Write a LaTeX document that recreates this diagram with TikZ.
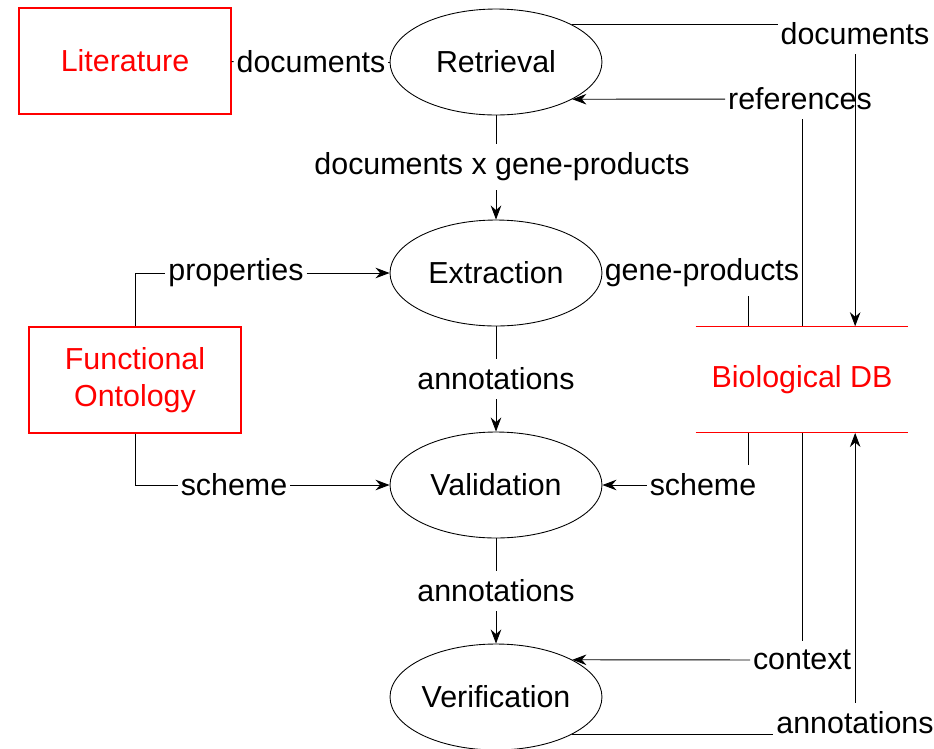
\documentclass[tikz,border=0pt]{standalone}
\usepackage{fontspec}
\setmainfont{Liberation Sans}
\usetikzlibrary{shapes.geometric,arrows.meta,calc}
\begin{document}
\begin{tikzpicture}[x=0.02cm,y=-0.02cm,
  font=\fontsize{17.3}{21}\selectfont,
  proc/.style={draw,ellipse,minimum width=4.24cm,minimum height=2.12cm,inner sep=0pt,line width=0.5pt},
  store/.style={draw=red,text=red,minimum width=4.24cm,minimum height=2.12cm,align=center,line width=0.6pt},
  db/.style={text=red,minimum width=4.24cm,minimum height=2.12cm},
  lbl/.style={inner xsep=1.5pt,inner ysep=5pt},
  flow/.style={line width=0.5pt},
  >={Stealth[length=8pt,width=6pt]}]
\useasboundingbox (0,0) rectangle (934,748);
\node[store] (Literature) at (125,61) {Literature};
\node[store] (Ontology) at (135,380) {Functional\\Ontology};
\node[db] (DB) at (802,379.6) {Biological DB};
\foreach \i/\f in {1/.25,2/.5,3/.75} {
  \coordinate (dbN\i) at ($(DB.north west)!\f!(DB.north east)$);
  \coordinate (dbS\i) at ($(DB.south west)!\f!(DB.south east)$);
}
\node[proc] (Retrieval) at (496,62) {Retrieval};
\node[proc] (Extraction) at (496,273) {Extraction};
\node[proc] (Validation) at (496,485) {Validation};
\node[proc] (Verification) at (496,697) {Verification};
\node[lbl] (docL) at (311,62) {documents};
\node[lbl] (docR) at (855,34) {documents};
\node[lbl] (refs) at (800,99) {references};
\node[lbl] (docgp) at (502,167) {documents x gene-products};
\node[lbl] (props) at (236,273) {properties};
\node[lbl] (genes) at (702,273) {gene-products};
\node[lbl] (annoE) at (496,379) {annotations};
\node[lbl] (schemeL) at (234,485) {scheme};
\node[lbl] (schemeR) at (703,485) {scheme};
\node[lbl] (annoV) at (496,591) {annotations};
\node[lbl] (context) at (802,660) {context};
\node[lbl] (annoB) at (855,723) {annotations};
\draw[flow] (Literature) -- (docL);
\draw[flow] (docL) -- (Retrieval);
\draw[flow] (Retrieval) -- (Retrieval |- docgp.north);
\draw[flow,->] (Retrieval |- docgp.south) -- (Extraction);
\draw[flow] (Extraction) -- (annoE);
\draw[flow,->] (annoE) -- (Validation);
\draw[flow] (Validation) -- (annoV);
\draw[flow,->] (annoV) -- (Verification);
\draw[flow] (Ontology) |- (props);
\draw[flow,->] (props) -- (Extraction);
\draw[flow] (Ontology) |- (schemeL);
\draw[flow,->] (schemeL) -- (Validation);
\draw[flow] (Retrieval.26) -- (Retrieval.26 -| docR.west);
\draw[flow,->] (dbN3 |- docR.south) -- (dbN3);
\draw[flow] (dbN2 |- refs.south) -- (dbN2);
\draw[flow,->] (refs) -- (Retrieval.-26);
\draw[flow] (dbN1 |- genes.south) -- (dbN1);
\draw[flow] (dbS1) -- (dbS1 |- schemeR.north);
\draw[flow,->] (schemeR) -- (Validation);
\draw[flow] (dbS2) -- (dbS2 |- context.north);
\draw[flow,->] (context) -- (Verification.26);
\draw[flow] (Verification.-26) -- (Verification.-26 -| annoB.west);
\draw[flow,->] (dbS3 |- annoB.north) -- (dbS3);
\draw[red,line width=0.6pt] (DB.north west) -- (DB.north east);
\draw[red,line width=0.6pt] (DB.south west) -- (DB.south east);
\end{tikzpicture}
\end{document}
